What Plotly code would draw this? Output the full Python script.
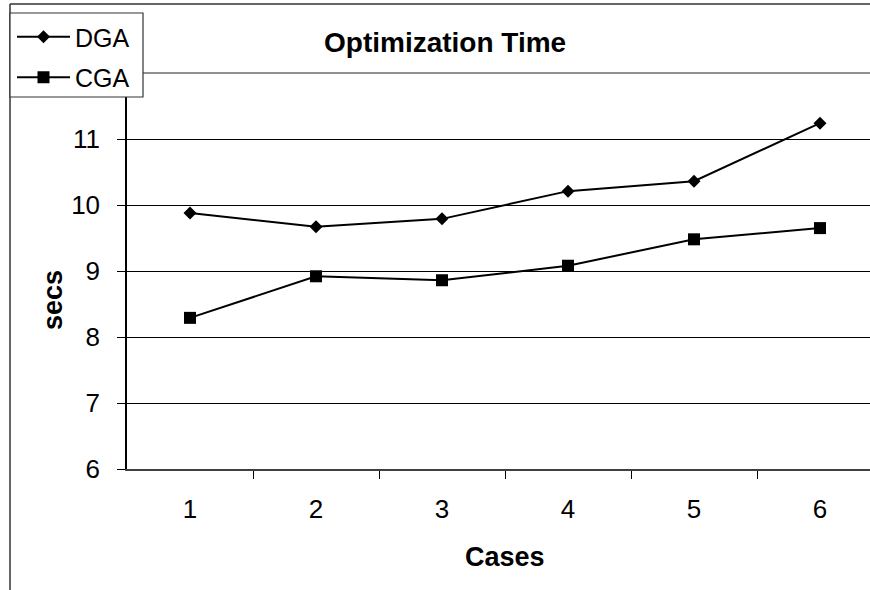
import plotly.graph_objects as go

cases = [1, 2, 3, 4, 5, 6]
dga = [9.88, 9.67, 9.79, 10.21, 10.36, 11.24]
cga = [8.29, 8.92, 8.86, 9.08, 9.48, 9.65]
y_ticks = [6, 7, 8, 9, 10, 11]
title_text = "Optimization Time"
x_title = "Cases"
y_title = "secs"

FONT = "Liberation Sans, Arial, sans-serif"
W, H = 870, 590
L, R, T, B = 127, 0, 73, 121
PW, PH = W - L - R, H - T - B

def px_x(x):
    return (x - L) / PW

def px_y(y):
    return (H - B - y) / PH

fig = go.Figure()
fig.add_trace(go.Scatter(
    x=cases, y=dga, name="DGA", mode="lines+markers", legendgroup="a",
    line=dict(color="black", width=2),
    marker=dict(symbol="diamond", size=10, color="black"),
))
fig.add_trace(go.Scatter(
    x=cases, y=cga, name="CGA", mode="lines+markers", legendgroup="b",
    line=dict(color="black", width=2),
    marker=dict(symbol="square", size=12, color="black"),
))

shapes = [
    # plot area top border (gray)
    dict(type="line", xref="paper", yref="paper", x0=0, x1=1, y0=1, y1=1,
         line=dict(color="#909090", width=2), layer="below"),
    # outer chart border
    dict(type="line", xref="paper", yref="paper", x0=px_x(10), x1=1.0,
         y0=px_y(4), y1=px_y(4), line=dict(color="#333333", width=1.5)),
    dict(type="line", xref="paper", yref="paper", x0=px_x(10), x1=px_x(10),
         y0=px_y(4), y1=px_y(600), line=dict(color="#333333", width=1.5)),
    # legend box
    dict(type="rect", xref="paper", yref="paper", x0=px_x(10), x1=px_x(143),
         y0=px_y(97), y1=px_y(13), fillcolor="white",
         line=dict(color="#333333", width=1.2), layer="above"),
]

annotations = [
    dict(text="<b>%s</b>" % title_text, xref="paper", yref="paper",
         x=px_x(445), y=px_y(42), xanchor="center", yanchor="middle",
         showarrow=False, font=dict(family=FONT, size=28, color="black")),
    dict(text="<b>%s</b>" % x_title, xref="paper", yref="paper",
         x=px_x(505), y=px_y(557), xanchor="center", yanchor="middle",
         showarrow=False, font=dict(family=FONT, size=27, color="black")),
    dict(text="<b>%s</b>" % y_title, xref="paper", yref="paper",
         x=px_x(53), y=px_y(300), xanchor="center", yanchor="middle",
         textangle=-90, showarrow=False,
         font=dict(family=FONT, size=27, color="black")),
]

fig.update_layout(
    width=W, height=H,
    margin=dict(l=L, r=R, t=T, b=B, pad=0),
    paper_bgcolor="white", plot_bgcolor="white",
    font=dict(family=FONT, size=26, color="black"),
    shapes=shapes, annotations=annotations,
    showlegend=True,
    legend=dict(x=px_x(12), y=px_y(14), xanchor="left", yanchor="top",
                bgcolor="rgba(0,0,0,0)", borderwidth=0,
                font=dict(family=FONT, size=25, color="black"),
                itemwidth=53, tracegroupgap=5),
    xaxis=dict(range=[0.5, 0.5 + PW / 126.0], tickmode="array",
               tickvals=cases, ticktext=[str(c) for c in cases],
               ticks="", showgrid=False, zeroline=False,
               showline=True, linecolor="#404040", linewidth=2,
               ticklabelstandoff=16,
               minor=dict(tickvals=[1.5, 2.5, 3.5, 4.5, 5.5, 6.5],
                          ticks="outside", ticklen=8, tickcolor="black",
                          tickwidth=1, showgrid=False),
               fixedrange=True),
    yaxis=dict(range=[6, 12], tickmode="array", tickvals=y_ticks,
               ticks="outside", ticklen=8, tickcolor="black", tickwidth=1,
               showgrid=True, gridcolor="black", gridwidth=1,
               zeroline=False, showline=True, linecolor="black", linewidth=1.5,
               ticklabelstandoff=12, fixedrange=True),
)

fig.write_html("out.html")
